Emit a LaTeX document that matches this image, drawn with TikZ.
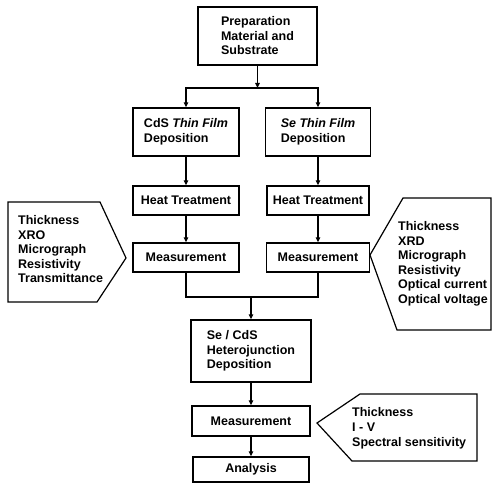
\documentclass[tikz,border=0pt]{standalone}
\usepackage{fontspec}
\setmainfont{Liberation Sans}
\usetikzlibrary{arrows.meta}
\begin{document}
\begin{tikzpicture}[x=1pt,y=-1pt,
  font=\fontsize{12.5}{14.5}\selectfont\bfseries,
  box/.style={draw,line width=1.4pt,inner sep=0pt,align=left},
  conn/.style={line width=1.4pt},
  arr/.style={conn,-{Triangle[length=5pt,width=4.5pt]}},
  callout/.style={draw,line width=1.2pt,line join=miter},
  txt/.style={anchor=west,align=left,inner sep=0pt}]
\useasboundingbox (0,0) rectangle (492,492);
% boxes
\node[box,minimum width=119pt,minimum height=58pt] (prep) at (257.5,36) {Preparation\\Material and\\Substrate};
\node[box,minimum width=106pt,minimum height=48pt] (cds) at (186,132) {CdS \textit{Thin Film}\\Deposition};
\node[box,minimum width=105pt,minimum height=48pt] (se) at (318,132) {\textit{Se Thin Film}\\Deposition};
\node[box,minimum width=106pt,minimum height=29pt] (heat1) at (186,200.5) {Heat Treatment};
\node[box,minimum width=102pt,minimum height=29pt] (heat2) at (318,200.5) {Heat Treatment};
\node[box,minimum width=106pt,minimum height=29pt] (meas1) at (186,257.5) {Measurement};
\node[box,minimum width=103pt,minimum height=29pt] (meas2) at (318,257.5) {Measurement};
\node[box,minimum width=120pt,minimum height=62pt] (hetero) at (251,351) {Se / CdS\\Heterojunction\\Deposition};
\node[box,minimum width=118pt,minimum height=30pt] (meas3) at (251,421) {Measurement};
\node[box,minimum width=116pt,minimum height=25pt] (anal) at (251,469.5) {Analysis};
% junction coordinates
\coordinate (j1) at (257.5,88);
\coordinate (m) at (251,297);
% connectors
\draw[arr] (prep.south) -- (j1);
\draw[arr] (j1) -| (cds.north);
\draw[arr] (j1) -| (se.north);
\draw[arr] (cds) -- (heat1);
\draw[arr] (se) -- (heat2);
\draw[arr] (heat1) -- (meas1);
\draw[arr] (heat2) -- (meas2);
\draw[conn] (meas1.south) |- (m);
\draw[conn] (meas2.south) |- (m);
\draw[arr] (m) -- (hetero.north);
\draw[arr] (hetero) -- (meas3);
\draw[arr] (meas3) -- (anal);
% callouts
\draw[callout] (8,202) -- (100,202) -- (126,258) -- (97,302) -- (8,302) -- cycle;
\node[txt] (lefttxt) at (18,249.5) {Thickness\\XRO\\Micrograph\\Resistivity\\Transmittance};
\draw[callout] (370,255) -- (403,198) -- (491,198) -- (491,330) -- (397,330) -- cycle;
\node[txt] (righttxt) at (398,264) {Thickness\\XRD\\Micrograph\\Resistivity\\Optical current\\Optical voltage};
\draw[callout] (317,423) -- (360,394) -- (477,394) -- (477,461) -- (352,461) -- cycle;
\node[txt,font=\fontsize{12.5}{15}\selectfont\bfseries] (bottxt) at (352,428) {Thickness\\I - V\\Spectral sensitivity};
\end{tikzpicture}
\end{document}
